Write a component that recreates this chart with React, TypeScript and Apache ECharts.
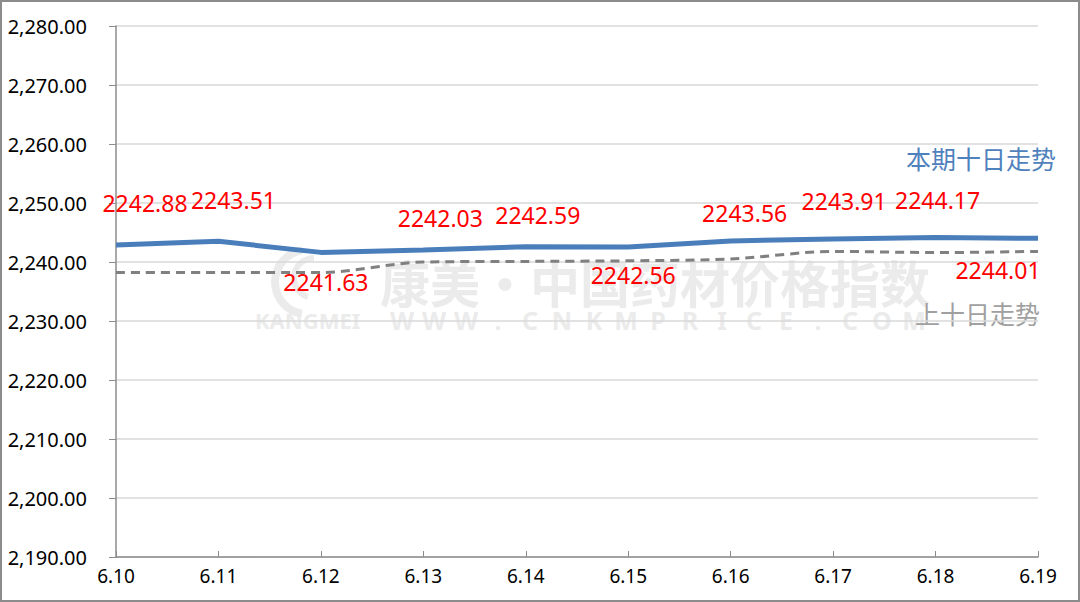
import React, { useEffect, useRef } from "react";
import * as echarts from "echarts";

const categories = ["6.10", "6.11", "6.12", "6.13", "6.14", "6.15", "6.16", "6.17", "6.18", "6.19"];
const currentValues = [2242.88, 2243.51, 2241.63, 2242.03, 2242.59, 2242.56, 2243.56, 2243.91, 2244.17, 2244.01];
const previousValues = [2238.2, 2238.2, 2238.2, 2240.0, 2240.1, 2240.2, 2240.5, 2241.8, 2241.6, 2241.8];
const currentName = "本期十日走势";
const previousName = "上十日走势";
const yMin = 2190;
const yMax = 2280;
const yInterval = 10;

// label offsets (style only)
const labelOffsets: [number, number][] = [
  [29, -42], [15, -41], [5, 30], [17, -32], [12, -32],
  [5, 28], [14, -28], [11, -38], [2, -37], [-40, 32],
];

const FONT = "'Noto Sans', 'Noto Sans CJK SC', sans-serif";
const WM = "#ebebeb";

function fmt(v: number) {
  return v.toLocaleString("en-US", { minimumFractionDigits: 2, maximumFractionDigits: 2 });
}

export default function App() {
  const ref = useRef<HTMLDivElement>(null);
  useEffect(() => {
    if (!ref.current) return;
    const chart = echarts.init(ref.current, undefined, { renderer: "svg" });
    const wmRest = "WWW.CNKMPRICE.COM".split("");
    const wmChars: any[] = wmRest.map((ch, i) => ({
      type: "text",
      z: -10,
      x: 400 + i * 32,
      y: 318,
      style: { text: ch, fill: WM, font: `bold 25px ${FONT}`, textAlign: "center", textVerticalAlign: "middle" },
    }));
    chart.setOption({
      animation: false,
      backgroundColor: "#ffffff",
      grid: { left: 114, right: 40, top: 24, bottom: 43, containLabel: false },
      xAxis: {
        type: "category",
        data: categories,
        boundaryGap: false,
        axisLine: { lineStyle: { color: "#8c8c8c", width: 1.5 } },
        axisTick: { inside: true, length: 6, lineStyle: { color: "#8c8c8c" } },
        axisLabel: { color: "#000", fontSize: 19, fontFamily: FONT, margin: 9 },
        splitLine: { show: false },
      },
      yAxis: {
        type: "value",
        min: yMin,
        max: yMax,
        interval: yInterval,
        axisLine: { show: true, lineStyle: { color: "#8c8c8c", width: 1.5 } },
        axisTick: { show: true, inside: false, length: 7, lineStyle: { color: "#8c8c8c" } },
        axisLabel: { color: "#000", fontSize: 20, fontFamily: FONT, margin: 29, formatter: (v: number) => fmt(v) },
        splitLine: { lineStyle: { color: "#d9d9d9", width: 1.5 } },
      },
      graphic: [
        {
          type: "arc",
          z: -10,
          shape: { cx: 305, cy: 280, r: 32, startAngle: Math.PI * 0.55, endAngle: Math.PI * 1.45 },
          style: { stroke: WM, lineWidth: 8, fill: "none" },
        },
        {
          type: "arc",
          z: -10,
          shape: { cx: 312, cy: 276, r: 20, startAngle: Math.PI * 0.6, endAngle: Math.PI * 1.5 },
          style: { stroke: WM, lineWidth: 6, fill: "none" },
        },
        {
          type: "text",
          z: -10,
          x: 378,
          y: 279,
          style: {
            text: "康美·中国药材价格指数",
            fill: WM,
            font: `bold 50px 'Noto Sans CJK SC', sans-serif`,
            textVerticalAlign: "middle",
          },
        },
        {
          type: "text",
          z: -10,
          x: 253,
          y: 318,
          style: { text: "KANGMEI", fill: WM, font: `bold 22px ${FONT}`, textVerticalAlign: "middle" },
        },
        ...wmChars,
        {
          type: "text",
          x: 904,
          y: 156,
          style: {
            text: currentName,
            fill: "#4f81bd",
            font: `25px 'Noto Sans CJK SC', sans-serif`,
            textVerticalAlign: "middle",
          },
        },
        {
          type: "text",
          x: 913,
          y: 311,
          style: {
            text: previousName,
            fill: "#a0a0a0",
            font: `25px 'Noto Sans CJK SC', sans-serif`,
            textVerticalAlign: "middle",
          },
        },
      ],
      series: [
        {
          name: previousName,
          type: "line",
          data: previousValues,
          smooth: 0.3,
          symbol: "none",
          lineStyle: { color: "#808080", width: 3, type: [9, 6] },
          z: 2,
        },
        {
          name: currentName,
          type: "line",
          data: currentValues.map((v, i) => ({
            value: v,
            label: { offset: labelOffsets[i] },
          })),
          symbol: "circle",
          symbolSize: 1,
          itemStyle: { color: "rgba(0,0,0,0)" },
          lineStyle: { color: "#4a7ebb", width: 5 },
          label: {
            show: true,
            position: "inside",
            color: "#ff0000",
            fontSize: 23,
            fontFamily: FONT,
            formatter: (p: any) => p.value.toFixed(2),
          },
          z: 3,
        },
      ],
    });
    return () => chart.dispose();
  }, []);
  return (
    <div
      ref={ref}
      style={{
        position: "fixed",
        left: 0,
        top: 0,
        width: 1080,
        height: 602,
        boxSizing: "border-box",
        border: "2px solid #8c8c8c",
        background: "#fff",
      }}
    />
  );
}
